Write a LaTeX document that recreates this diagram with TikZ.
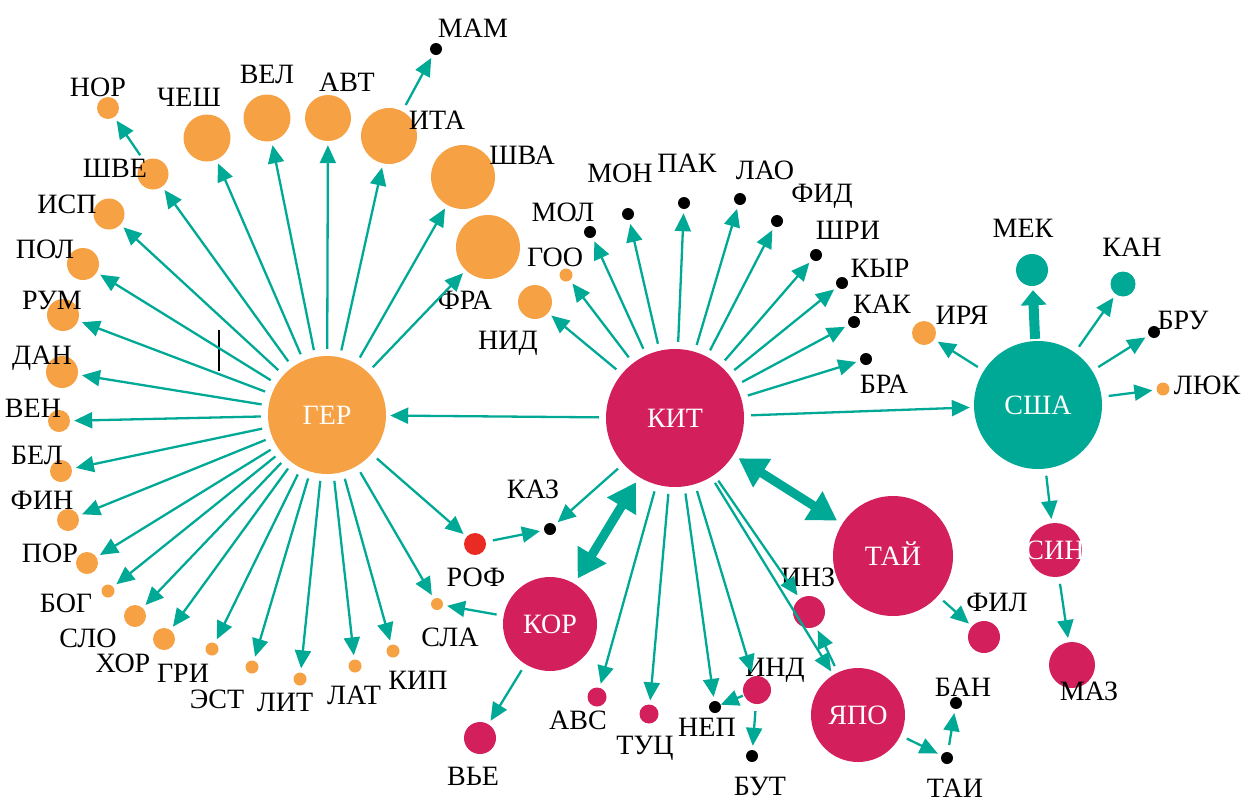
\documentclass[tikz,border=0pt]{standalone}
\usepackage{fontspec}
\setmainfont{Liberation Serif}
\usetikzlibrary{arrows.meta}
\definecolor{corange}{RGB}{246,161,68}
\definecolor{ccrim}{RGB}{211,31,91}
\definecolor{cteal}{RGB}{0,169,149}
\definecolor{cred}{RGB}{234,43,36}

\begin{document}
\begin{tikzpicture}[x=1pt, y=-1pt,
  sat/.style 2 args={circle, fill=#1, minimum size=#2, inner sep=0pt},
  hub/.style 2 args={circle, fill=#1, minimum size=#2, inner sep=0pt, text=white, font=\fontsize{28}{30}\selectfont, text height=18.5pt, text depth=0pt},
  lbl/.style={font=\fontsize{28}{30}\selectfont, inner sep=0pt, text height=18.5pt, text depth=0pt},
  arr/.style={draw=cteal, line width=2.3pt, -{Triangle[length=18pt,width=16pt]}, shorten <=7pt, shorten >=4pt},
  dbl/.style={draw=cteal, line width=9pt, {Triangle[length=28pt,width=32pt]}-{Triangle[length=28pt,width=32pt]}, shorten <=6pt, shorten >=6pt},
  fat/.style={draw=cteal, line width=10pt, -{Triangle[length=15pt,width=25pt]}, shorten <=2pt, shorten >=4pt}]
\useasboundingbox (0,0) rectangle (1244,801);
% Points
\node[hub={corange}{118}] (ger) at (327,415) {ГЕР};
\node[hub={ccrim}{138}] (kit) at (675,418) {КИТ};
\node[hub={cteal}{128}] (usa) at (1038,405) {США};
\node[hub={ccrim}{120}] (tai) at (893,556) {ТАЙ};
\node[hub={ccrim}{94}] (kor) at (550,624) {КОР};
\node[hub={ccrim}{94}] (jpn) at (858,715) {ЯПО};
\node[sat={ccrim}{54}, label={[lbl,text=white]center:СИН}] (sin) at (1055,550) {};
\node[sat={corange}{22}, label={[lbl,xshift=-10pt,yshift=21pt]center:НОР}] (nor) at (108,108) {};
\node[sat={corange}{47}, label={[lbl,xshift=-18pt,yshift=41pt]center:ЧЕШ}] (chesh) at (207,138) {};
\node[sat={corange}{47}, label={[lbl,yshift=44pt]center:ВЕЛ}] (vel) at (267,118) {};
\node[sat={corange}{46}, label={[lbl,xshift=19pt,yshift=36pt]center:АВТ}] (avt) at (328,118) {};
\node[sat={corange}{56}, label={[lbl,xshift=48pt,yshift=16pt]center:ИТА}] (ita) at (389,136) {};
\node[sat={black}{12}, label={[lbl,xshift=37pt,yshift=21pt]center:МАМ}] (mam) at (436,49) {};
\node[sat={corange}{31}, label={[lbl,xshift=-38pt,yshift=6pt]center:ШВЕ}] (shve) at (153,174) {};
\node[sat={corange}{31}, label={[lbl,xshift=-42pt,yshift=10pt]center:ИСП}] (isp) at (109,214) {};
\node[sat={corange}{32}, label={[lbl,xshift=-38pt,yshift=15pt]center:ПОЛ}] (pol) at (83,264) {};
\node[sat={corange}{32}, label={[lbl,xshift=-11pt,yshift=15pt]center:РУМ}] (rum) at (63,315) {};
\node[sat={corange}{32}, label={[lbl,xshift=-20pt,yshift=17pt]center:ДАН}] (dan) at (62,372) {};
\node[sat={corange}{22}, label={[lbl,xshift=-26pt,yshift=13pt]center:ВЕН}] (ven) at (59,421) {};
\node[sat={corange}{22}, label={[lbl,xshift=-24pt,yshift=16pt]center:БЕЛ}] (bel) at (61,471) {};
\node[sat={corange}{22}, label={[lbl,xshift=-26pt,yshift=20pt]center:ФИН}] (fin) at (68,520) {};
\node[sat={corange}{22}, label={[lbl,xshift=-37pt,yshift=10pt]center:ПОР}] (por) at (87,563) {};
\node[sat={corange}{13}, label={[lbl,xshift=-42pt,yshift=-12pt]center:БОГ}] (bog) at (108,591) {};
\node[sat={corange}{22}, label={[lbl,xshift=-47pt,yshift=-22pt]center:СЛО}] (slo) at (135,616) {};
\node[sat={corange}{22}, label={[lbl,xshift=-41pt,yshift=-24pt]center:ХОР}] (hor) at (164,639) {};
\node[sat={corange}{13}, label={[lbl,xshift=-29pt,yshift=-24pt]center:ГРИ}] (gri) at (212,649) {};
\node[sat={corange}{13}, label={[lbl,xshift=-35pt,yshift=-32pt]center:ЭСТ}] (est) at (252,667) {};
\node[sat={corange}{13}, label={[lbl,xshift=-15pt,yshift=-23pt]center:ЛИТ}] (lit) at (300,679) {};
\node[sat={corange}{13}, label={[lbl,xshift=-1pt,yshift=-29pt]center:ЛАТ}] (lat) at (355,666) {};
\node[sat={corange}{13}, label={[lbl,xshift=25pt,yshift=-29pt]center:КИП}] (kip) at (393,651) {};
\node[sat={corange}{12}, label={[lbl,xshift=13pt,yshift=-33pt]center:СЛА}] (sla) at (437,604) {};
\node[sat={cred}{22}, label={[lbl,xshift=1pt,yshift=-33pt]center:РОФ}] (rof) at (475,544) {};
\node[sat={black}{12}, label={[lbl,xshift=-17pt,yshift=40pt]center:КАЗ}] (kaz) at (550,529) {};
\node[sat={corange}{64}, label={[lbl,xshift=59pt,yshift=22pt]center:ШВА}] (shva) at (463,177) {};
\node[sat={corange}{64}, label={[lbl,xshift=-23pt,yshift=-53pt]center:ФРА}] (fra) at (488,247) {};
\node[sat={corange}{34}, label={[lbl,xshift=-27pt,yshift=-38pt]center:НИД}] (nid) at (535,302) {};
\node[sat={corange}{13}, label={[lbl,xshift=-11pt,yshift=18pt]center:ГОО}] (goo) at (566,275) {};
\node[sat={black}{12}, label={[lbl,xshift=-27pt,yshift=20pt]center:МОЛ}] (mol) at (590,232) {};
\node[sat={black}{12}, label={[lbl,xshift=-8pt,yshift=41pt]center:МОН}] (mon) at (628,214) {};
\node[sat={black}{12}, label={[lbl,xshift=3pt,yshift=40pt]center:ПАК}] (pak) at (684,203) {};
\node[sat={black}{12}, label={[lbl,xshift=25pt,yshift=29pt]center:ЛАО}] (lao) at (740,199) {};
\node[sat={black}{12}, label={[lbl,xshift=45pt,yshift=28pt]center:ФИД}] (fid) at (777,221) {};
\node[sat={black}{12}, label={[lbl,xshift=32pt,yshift=25pt]center:ШРИ}] (shri) at (816,255) {};
\node[sat={black}{12}, label={[lbl,xshift=38pt,yshift=15pt]center:КЫР}] (kyr) at (842,283) {};
\node[sat={black}{12}, label={[lbl,xshift=28pt,yshift=18pt]center:КАК}] (kak) at (854,322) {};
\node[sat={black}{12}, label={[lbl,xshift=18pt,yshift=-25pt]center:БРА}] (bra) at (866,359) {};
\node[sat={ccrim}{32}, label={[lbl,xshift=-7pt,yshift=-38pt]center:ВЬЕ}] (vie) at (480,738) {};
\node[sat={ccrim}{19}, label={[lbl,xshift=-19pt,yshift=-23pt]center:АВС}] (avs) at (597,697) {};
\node[sat={ccrim}{19}, label={[lbl,xshift=-4pt,yshift=-31pt]center:ТУЦ}] (tuc) at (649,714) {};
\node[sat={black}{12}, label={[lbl,xshift=-8pt,yshift=-20pt]center:НЕП}] (nep) at (715,707) {};
\node[sat={ccrim}{28}, label={[lbl,xshift=18pt,yshift=23pt]center:ИНД}] (ind) at (757,690) {};
\node[sat={ccrim}{32}, label={[lbl,xshift=-1pt,yshift=35pt]center:ИНЗ}] (inz) at (809,612) {};
\node[sat={black}{12}, label={[lbl,xshift=8pt,yshift=-30pt]center:БУТ}] (but) at (752,756) {};
\node[sat={black}{12}, label={[lbl,xshift=8pt,yshift=-30pt]center:ТАИ}] (tyw) at (947,758) {};
\node[sat={black}{12}, label={[lbl,xshift=7pt,yshift=16pt]center:БАН}] (ban) at (956,703) {};
\node[sat={ccrim}{32}, label={[lbl,xshift=13pt,yshift=35pt]center:ФИЛ}] (fil) at (984,637) {};
\node[sat={ccrim}{46}, label={[lbl,xshift=17pt,yshift=-26pt]center:МАЗ}] (maz) at (1072,665) {};
\node[sat={corange}{24}, label={[lbl,xshift=38pt,yshift=18pt]center:ИРЯ}] (irya) at (924,333) {};
\node[sat={cteal}{32}, label={[lbl,xshift=-9pt,yshift=42pt]center:МЕК}] (mek) at (1032,270) {};
\node[sat={cteal}{25}, label={[lbl,xshift=9pt,yshift=37pt]center:КАН}] (kan) at (1123,284) {};
\node[sat={black}{12}, label={[lbl,xshift=29pt,yshift=12pt]center:БРУ}] (bru) at (1154,332) {};
\node[sat={corange}{13}, label={[lbl,xshift=44pt,yshift=4pt]center:ЛЮК}] (luk) at (1163,389) {};
\coordinate (tick1) at (219,330);
\coordinate (tick2) at (219,371);

%Lines
\draw[line width=1.5pt] (tick1) -- (tick2);
\draw[arr] (shve) -- (nor);
\draw[arr] (ger) -- (shve);
\draw[arr] (ger) -- (isp);
\draw[arr] (ger) -- (pol);
\draw[arr] (ger) -- (rum);
\draw[arr] (ger) -- (dan);
\draw[arr] (ger) -- (ven);
\draw[arr] (ger) -- (bel);
\draw[arr] (ger) -- (fin);
\draw[arr] (ger) -- (por);
\draw[arr] (ger) -- (bog);
\draw[arr] (ger) -- (slo);
\draw[arr] (ger) -- (hor);
\draw[arr] (ger) -- (gri);
\draw[arr] (ger) -- (est);
\draw[arr] (ger) -- (lit);
\draw[arr] (ger) -- (lat);
\draw[arr] (ger) -- (kip);
\draw[arr] (ger) -- (sla);
\draw[arr] (ger) -- (rof);
\draw[arr] (ger) -- (chesh);
\draw[arr] (ger) -- (vel);
\draw[arr] (ger) -- (avt);
\draw[arr] (ger) -- (ita);
\draw[arr] (ger) -- (shva);
\draw[arr] (ger) -- (fra);
\draw[arr] (ita) -- (mam);
\draw[arr] (kit) -- (ger);
\draw[arr] (kit) -- (usa);
\draw[arr] (kit) -- (nid);
\draw[arr] (kit) -- (goo);
\draw[arr] (kit) -- (mol);
\draw[arr] (kit) -- (mon);
\draw[arr] (kit) -- (pak);
\draw[arr] (kit) -- (lao);
\draw[arr] (kit) -- (fid);
\draw[arr] (kit) -- (shri);
\draw[arr] (kit) -- (kyr);
\draw[arr] (kit) -- (kak);
\draw[arr] (kit) -- (bra);
\draw[arr] (kit) -- (kaz);
\draw[arr] (kit) -- (avs);
\draw[arr] (kit) -- (tuc);
\draw[arr] (kit) -- (nep);
\draw[arr] (kit) -- (ind);
\draw[arr] (kit) -- (jpn);
\draw[arr] (kit) -- (inz);
\draw[dbl] (kit) -- (kor);
\draw[dbl] (kit) -- (tai);
\draw[arr] (rof) -- (kaz);
\draw[arr] (kor) -- (sla);
\draw[arr] (kor) -- (vie);
\draw[arr, shorten <=1pt, shorten >=0pt] (ind) -- (nep);
\draw[arr] (ind) -- (but);
\draw[arr] (jpn) -- (inz);
\draw[arr] (jpn) -- (tyw);
\draw[arr] (tyw) -- (ban);
\draw[arr] (tai) -- (fil);
\draw[arr] (usa) -- (irya);
\draw[fat] (usa) -- (mek);
\draw[arr] (usa) -- (kan);
\draw[arr] (usa) -- (bru);
\draw[arr] (usa) -- (luk);
\draw[arr] (usa) -- (sin);
\draw[arr] (sin) -- (maz);
\end{tikzpicture}
\end{document}
